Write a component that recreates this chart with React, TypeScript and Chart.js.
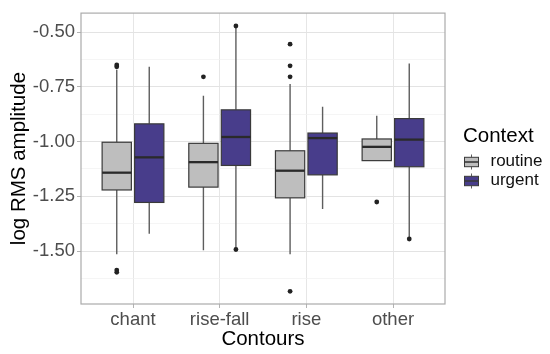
import React, { useEffect, useRef } from 'react';
import { Chart, registerables } from 'chart.js';

Chart.register(...registerables);

const categories = ['chant', 'rise-fall', 'rise', 'other'];
const groupNames = ['routine', 'urgent'];
const groupColors = ['#BEBEBE', '#483D8B'];

const routineLow = [-1.515, -1.496, -1.515, -1.087];
const routineQ1 = [-1.221, -1.208, -1.257, -1.087];
const routineMedian = [-1.142, -1.094, -1.133, -1.024];
const routineQ3 = [-1.003, -1.008, -1.042, -0.988];
const routineHigh = [-0.672, -0.791, -0.737, -0.882];
const routineOutliers = [
  [-0.65, -0.658, -1.587, -1.597],
  [-0.704],
  [-0.555, -0.654, -0.704, -1.684],
  [-1.276],
];

const urgentLow = [-1.421, -1.485, -1.308, -1.44];
const urgentQ1 = [-1.278, -1.109, -1.152, -1.115];
const urgentMedian = [-1.072, -0.979, -0.984, -0.991];
const urgentQ3 = [-0.919, -0.855, -0.961, -0.895];
const urgentHigh = [-0.658, -0.48, -0.841, -0.643];
const urgentOutliers = [[], [-0.472, -1.493], [], [-1.445]];

const yMajorTicks = [-1.5, -1.25, -1.0, -0.75, -0.5];
const yMinorTicks = [-1.625, -1.375, -1.125, -0.875, -0.625];

const xTitle = 'Contours';
const yTitle = 'log RMS amplitude';
const legendTitle = 'Context';

const FONT = "'Liberation Sans', Arial, sans-serif";
const DODGE = 0.1875;
const HALF_W = 0.16875;

const series = [
  { low: routineLow, q1: routineQ1, med: routineMedian, q3: routineQ3, high: routineHigh, out: routineOutliers, offset: -DODGE },
  { low: urgentLow, q1: urgentQ1, med: urgentMedian, q3: urgentQ3, high: urgentHigh, out: urgentOutliers, offset: DODGE },
];

const isMajor = (v: number) => yMajorTicks.some((m) => Math.abs(m - v) < 1e-6);

const boxPlugin = {
  id: 'boxes',
  beforeDatasetsDraw(chart: any) {
    const { ctx, chartArea, scales } = chart;
    const xs = scales.x;
    const ys = scales.y;
    ctx.save();
    ctx.beginPath();
    ctx.rect(chartArea.left, chartArea.top, chartArea.right - chartArea.left, chartArea.bottom - chartArea.top);
    ctx.clip();
    series.forEach((s, si) => {
      categories.forEach((_, i) => {
        const cx = xs.getPixelForValue(i + 1 + s.offset);
        const x0 = xs.getPixelForValue(i + 1 + s.offset - HALF_W);
        const x1 = xs.getPixelForValue(i + 1 + s.offset + HALF_W);
        const yLow = ys.getPixelForValue(s.low[i]);
        const yQ1 = ys.getPixelForValue(s.q1[i]);
        const yMed = ys.getPixelForValue(s.med[i]);
        const yQ3 = ys.getPixelForValue(s.q3[i]);
        const yHigh = ys.getPixelForValue(s.high[i]);
        ctx.strokeStyle = '#5e5e5e';
        ctx.lineWidth = 1.4;
        ctx.beginPath();
        ctx.moveTo(cx, yQ3);
        ctx.lineTo(cx, yHigh);
        ctx.moveTo(cx, yQ1);
        ctx.lineTo(cx, yLow);
        ctx.stroke();
        ctx.fillStyle = groupColors[si];
        ctx.fillRect(x0, yQ3, x1 - x0, yQ1 - yQ3);
        ctx.strokeStyle = '#3a3a3a';
        ctx.lineWidth = 1.2;
        ctx.strokeRect(x0, yQ3, x1 - x0, yQ1 - yQ3);
        ctx.strokeStyle = '#2a2a2a';
        ctx.lineWidth = 2.3;
        ctx.beginPath();
        ctx.moveTo(x0, yMed);
        ctx.lineTo(x1, yMed);
        ctx.stroke();
      });
    });
    ctx.restore();
  },
  afterDraw(chart: any) {
    const { ctx, chartArea } = chart;
    ctx.save();
    ctx.strokeStyle = '#ABABAB';
    ctx.lineWidth = 1.2;
    ctx.strokeRect(chartArea.left, chartArea.top, chartArea.right - chartArea.left, chartArea.bottom - chartArea.top);
    const lx = 463;
    ctx.fillStyle = '#000000';
    ctx.font = `20.5px ${FONT}`;
    ctx.textAlign = 'left';
    ctx.textBaseline = 'alphabetic';
    ctx.fillText(legendTitle, lx, 141.5);
    const keyCenters = [162, 181];
    groupNames.forEach((name, gi) => {
      const cy = keyCenters[gi];
      const kx = 464.5;
      const kw = 14;
      const kh = 9.4;
      ctx.strokeStyle = '#5e5e5e';
      ctx.lineWidth = 1;
      ctx.beginPath();
      ctx.moveTo(kx + kw / 2, cy - 7.5);
      ctx.lineTo(kx + kw / 2, cy - kh / 2);
      ctx.moveTo(kx + kw / 2, cy + kh / 2);
      ctx.lineTo(kx + kw / 2, cy + 7.5);
      ctx.stroke();
      ctx.fillStyle = groupColors[gi];
      ctx.fillRect(kx, cy - kh / 2, kw, kh);
      ctx.strokeStyle = '#3a3a3a';
      ctx.lineWidth = 1;
      ctx.strokeRect(kx, cy - kh / 2, kw, kh);
      ctx.lineWidth = 1.6;
      ctx.beginPath();
      ctx.moveTo(kx, cy);
      ctx.lineTo(kx + kw, cy);
      ctx.stroke();
      ctx.fillStyle = '#111111';
      ctx.font = `17px ${FONT}`;
      ctx.textBaseline = 'middle';
      ctx.fillText(name, 490.5, cy - 0.5);
    });
    ctx.restore();
  },
};

export default function App() {
  const canvasRef = useRef<HTMLCanvasElement | null>(null);

  useEffect(() => {
    if (!canvasRef.current) return;
    Chart.defaults.font.family = FONT;
    const datasets = series.map((s, si) => ({
      label: groupNames[si],
      data: s.out.flatMap((vals, i) => vals.map((v) => ({ x: i + 1 + s.offset, y: v }))),
      pointRadius: 2.4,
      pointBackgroundColor: '#222222',
      pointBorderWidth: 0,
      showLine: false,
    }));
    const chart = new Chart(canvasRef.current, {
      type: 'scatter',
      data: { datasets },
      plugins: [boxPlugin],
      options: {
        animation: false,
        responsive: true,
        maintainAspectRatio: false,
        layout: { padding: { left: 0, top: 7, right: 105, bottom: 0 } },
        plugins: { legend: { display: false }, tooltip: { enabled: false } },
        scales: {
          x: {
            type: 'linear',
            min: 0.4,
            max: 4.6,
            afterBuildTicks: (scale: any) => {
              scale.ticks = categories.map((_, i) => ({ value: i + 1 }));
            },
            afterFit: (scale: any) => {
              scale.height = 50;
            },
            ticks: {
              autoSkip: false,
              maxRotation: 0,
              padding: 1,
              color: '#4D4D4D',
              font: { size: 18.5 },
              callback: (v: any) => categories[Math.round(Number(v)) - 1] ?? '',
            },
            grid: {
              color: '#E6E6E6',
              lineWidth: 1,
              tickLength: 4,
              tickColor: '#B3B3B3',
            },
            border: { display: false },
            title: {
              display: true,
              text: xTitle,
              color: '#000000',
              font: { size: 20.5 },
              padding: { top: 0, bottom: 2.5 },
            },
          },
          y: {
            type: 'linear',
            min: -1.742,
            max: -0.413,
            afterBuildTicks: (scale: any) => {
              scale.ticks = [...yMinorTicks, ...yMajorTicks]
                .sort((a, b) => a - b)
                .map((v) => ({ value: v }));
            },
            afterFit: (scale: any) => {
              scale.width = 81;
            },
            ticks: {
              autoSkip: false,
              padding: 2,
              color: '#4D4D4D',
              font: { size: 18.5 },
              callback: (v: any) => (isMajor(Number(v)) ? Number(v).toFixed(2) : ''),
            },
            grid: {
              color: (ctx: any) => (ctx.tick && isMajor(ctx.tick.value) ? '#E3E3E3' : '#F1F1F1'),
              lineWidth: (ctx: any) => (ctx.tick && isMajor(ctx.tick.value) ? 1 : 0.7),
              tickLength: 4,
              tickColor: (ctx: any) => (ctx.tick && isMajor(ctx.tick.value) ? '#B3B3B3' : 'rgba(0,0,0,0)'),
            },
            border: { display: false },
            title: {
              display: true,
              text: yTitle,
              color: '#000000',
              font: { size: 20.5 },
              padding: { top: 7, bottom: 0 },
            },
          },
        },
      },
    } as any);
    return () => chart.destroy();
  }, []);

  return (
    <div style={{ position: 'absolute', left: 0, top: 0, width: 550, height: 354 }}>
      <canvas ref={canvasRef} />
    </div>
  );
}
